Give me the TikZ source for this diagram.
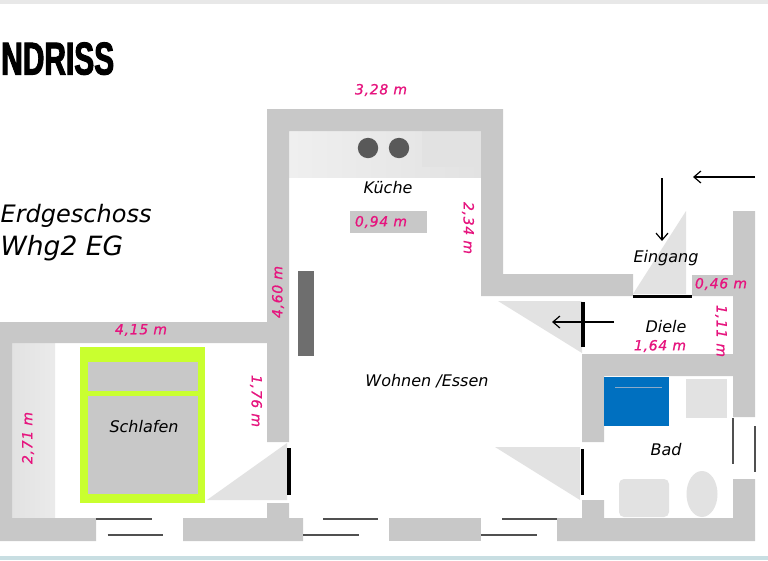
\documentclass[tikz,border=0pt]{standalone}
\usepackage{fontspec}
\usetikzlibrary{arrows.meta}
\setmainfont{Lato}
\newfontfamily\handfont{DejaVu Sans Oblique}[LetterSpace=5,FakeBold=0.8]
\newfontfamily\labelfont{DejaVu Sans Oblique}
\newfontfamily\titlefont{Liberation Sans Bold}[FakeStretch=0.65,FakeBold=2.2]
\definecolor{wallc}{HTML}{C8C8C8}
\definecolor{fixture}{HTML}{E2E2E2}
\definecolor{pinkc}{HTML}{E6147E}
\definecolor{limec}{HTML}{C9FF2F}
\definecolor{blueb}{HTML}{0070C0}
\definecolor{winc}{HTML}{505050}
\tikzset{
  x=1pt,y=-1pt,
  wall/.style={fill=wallc,draw=none},
  fixt/.style={fill=fixture,draw=none},
  win/.style={draw=winc,line width=1.6pt},
  doorl/.style={draw=black,line width=3.8pt},
  arr/.style={draw=black,line width=1.2pt,-{Straight Barb[length=7pt,width=12pt]}},
  dim/.style={text=pinkc,font=\handfont\fontsize{14}{16}\selectfont,inner sep=0pt},
  room/.style={text=black,font=\labelfont\fontsize{16}{18}\selectfont,inner sep=0pt},
  big/.style={text=black,font=\labelfont\fontsize{25}{30}\selectfont,inner sep=0pt,anchor=base west},
}
\begin{document}
\begin{tikzpicture}
\useasboundingbox (0,0) rectangle (768,560);
\fill[white] (0,0) rectangle (768,560);
\fill[fill=fixture!80!white] (0,0) rectangle (768,4);
\fill[fill={rgb,255:red,200;green,222;blue,226}] (0,556) rectangle (768,560);
% fixtures beneath the walls
\shade[left color=fixture!55!white,right color=fixture] (289,131) rectangle (481,177);
\fill[fixture] (422,131) rectangle (481,167);
\shade[left color=fixture,right color=fixture!70!white] (12,343) rectangle (55,518);
% walls
\path[wall] (267,109) -- (503,109) -- (503,274) -- (633,274) -- (633,296) -- (481,296) -- (481,131) -- (289,131) -- (289,442) -- (267,442) -- (267,343) -- (12,343) -- (12,518) -- (96,518) -- (96,541) -- (0,541) -- (0,322) -- (267,322) -- cycle;
\path[wall] (692,275) -- (733,275) -- (733,211) -- (755,211) -- (755,417) -- (733,417) -- (733,376) -- (604,376) -- (604,442) -- (582,442) -- (582,354) -- (733,354) -- (733,296) -- (692,296) -- cycle;
\path[wall] (183,518) -- (267,518) -- (267,503) -- (289,503) -- (289,518) -- (303,518) -- (303,541) -- (183,541) -- cycle;
\path[wall] (389,518) rectangle (481,541);
\path[wall] (557,518) -- (582,518) -- (582,500) -- (604,500) -- (604,518) -- (733,518) -- (733,479) -- (755,479) -- (755,541) -- (557,541) -- cycle;
% door swings
\path[fixt] (686,211) -- (686,294) -- (633,294) -- cycle;
\path[fixt] (498,301) -- (582,301) -- (582,353) -- cycle;
\path[fixt] (495,447) -- (580,447) -- (580,500) -- cycle;
\path[fixt] (207,500) -- (287,500) -- (287,443) -- cycle;
% kitchen
\fill[fill=wallc] (350,211) rectangle (427,233);
\fill[fill={rgb,255:red,89;green,89;blue,89}] (368,148) circle[radius=10.2] (399,148) circle[radius=10.2];
\fill[fill={rgb,255:red,110;green,110;blue,110}] (298,271) rectangle (314,356);
% bed
\fill[limec] (80,347) rectangle (205,503);
\fill[wallc] (88,362) rectangle (198,391);
\fill[wallc] (88,396) rectangle (198,494);
% bath
\fill[blueb] (604,377) rectangle (669,426);
\draw[draw={rgb,255:red,140;green,170;blue,200},line width=0.9pt] (615,387) -- (662,387);
\path[fixt] (686,379) rectangle (727,418);
\path[fixt,rounded corners=5pt] (619,479) rectangle (669,517);
\path[fixt] (702,494) ellipse[x radius=15.5,y radius=23];
% windows
\draw[win] (96,519) -- (152,519);
\draw[win] (107.5,535) -- (163,535);
\draw[win] (323,519) -- (378,519);
\draw[win] (303,535) -- (359,535);
\draw[win] (502,519) -- (557,519);
\draw[win] (481,535) -- (537,535);
\draw[win] (733,418) -- (733,464);
\draw[win] (755,426) -- (755,472);
% doors
\draw[doorl] (289,448) -- (289,495);
\draw[doorl] (582.5,449) -- (582.5,495);
\draw[doorl] (633,296.5) -- (692,296.5);
\draw[doorl] (583,302) -- (583,347);
% arrows
\coordinate (a1s) at (755,177); \coordinate (a1e) at (693,177);
\coordinate (a2s) at (662,178); \coordinate (a2e) at (662,241);
\coordinate (a3s) at (614,322); \coordinate (a3e) at (552,322);
\draw[arr] (a1s) -- (a1e);
\draw[arr] (a2s) -- (a2e);
\draw[arr] (a3s) -- (a3e);
% dimensions
\node[dim] (d328) at (381,90) {3,28 m};
\node[dim] (d094) at (381,222) {0,94 m};
\node[dim,rotate=-90] (d234) at (468,228) {2,34 m};
\node[dim,rotate=90] (d460) at (278,292) {4,60 m};
\node[dim] (d415) at (141,330) {4,15 m};
\node[dim,rotate=-90] (d176) at (256,401) {1,76 m};
\node[dim,rotate=90] (d271) at (28,438) {2,71 m};
\node[dim] (d046) at (721,284) {0,46 m};
\node[dim,rotate=-90] (d111) at (721,331) {1,11 m};
\node[dim] (d164) at (660,346) {1,64 m};
% rooms
\node[room] (kueche) at (388,188) {Küche};
\node[room] (eingang) at (666,258) {Eingang};
\node[room] (diele) at (666,327) {Diele};
\node[room] (wohnen) at (427,381) {Wohnen /Essen};
\node[room] (schlafen) at (144,427) {Schlafen};
\node[room] (bad) at (666,450) {Bad};
% headings
\node[big,font=\labelfont\fontsize{24}{30}\selectfont] (eg) at (0.5,222) {Erdgeschoss};
\node[big,font=\labelfont\fontsize{26.5}{30}\selectfont] (whg) at (0.5,255) {Whg2 EG};
\node[inner sep=0pt,anchor=base west,font=\titlefont\fontsize{46}{48}\selectfont] (title) at (1,74.5) {NDRISS};
\end{tikzpicture}
\end{document}
